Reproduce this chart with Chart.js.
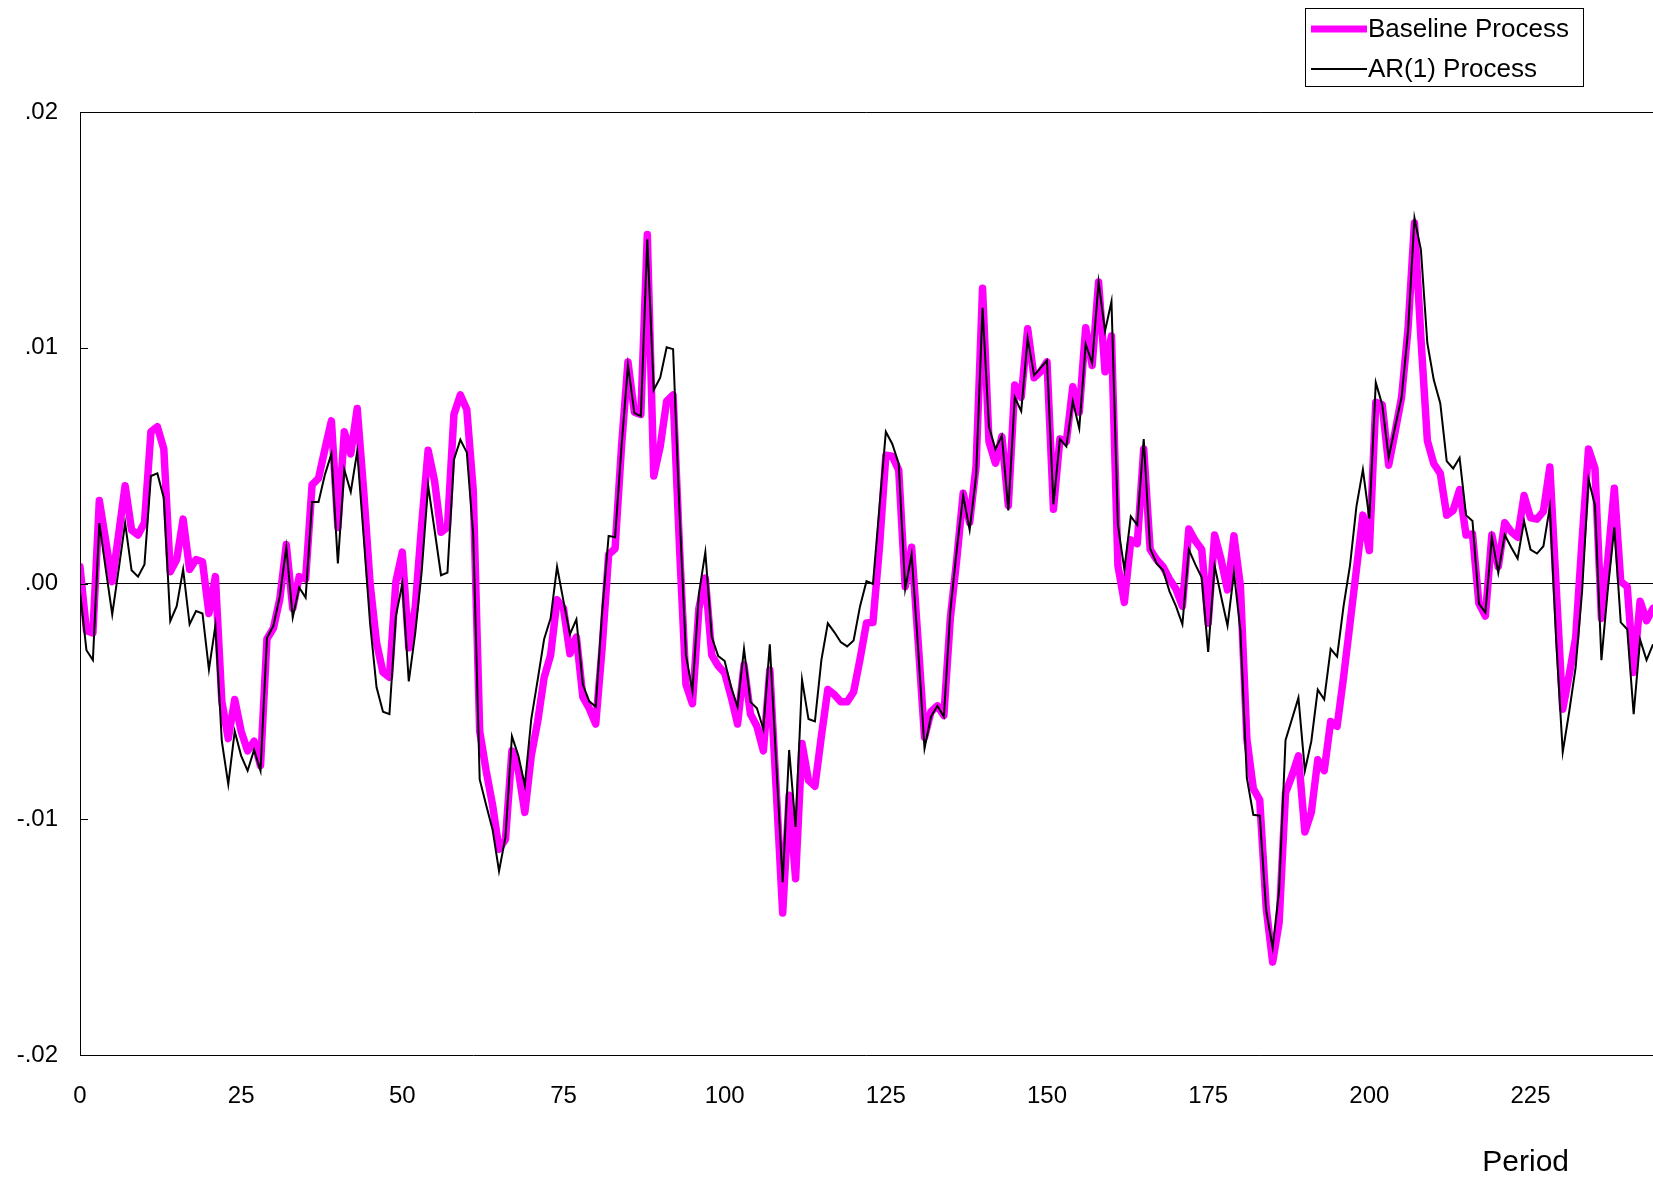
<!DOCTYPE html>
<html>
<head>
<meta charset="utf-8">
<script src="https://cdn.jsdelivr.net/npm/chart.js@4.4.0/dist/chart.umd.min.js"></script>
<style>
  html, body { margin: 0; padding: 0; background: #fff; overflow: hidden; }
  #wrap { width: 1653px; height: 1178px; }
</style>
</head>
<body>
<div id="wrap"><canvas id="arChart" width="1653" height="1178"></canvas></div>
<script>
// series, one value per period (0..244)
const baseline = [
  0.00071, -0.00200, -0.00210, 0.00352, 0.00180, 0.00008, 0.00210, 0.00415, 0.00227, 0.00206,
  0.00258, 0.00644, 0.00665, 0.00571, 0.00050, 0.00102, 0.00273, 0.00060, 0.00102, 0.00092,
  -0.00127, 0.00029, -0.00500, -0.00658, -0.00492, -0.00627, -0.00710, -0.00669, -0.00773, -0.00235,
  -0.00190, -0.00065, 0.00165, -0.00106, 0.00029, 0.00019, 0.00419, 0.00446, 0.00571, 0.00690,
  0.00238, 0.00644, 0.00550, 0.00742, 0.00394, 0.00000, -0.00252, -0.00377, -0.00398, 0.00008,
  0.00133, -0.00273, -0.00100, 0.00250, 0.00565, 0.00435, 0.00217, 0.00238, 0.00717, 0.00800,
  0.00738, 0.00394, -0.00627, -0.00794, -0.00940, -0.01127, -0.01085, -0.00710, -0.00794, -0.00971,
  -0.00731, -0.00585, -0.00398, -0.00304, -0.00069, -0.00106, -0.00298, -0.00227, -0.00481, -0.00530,
  -0.00596, -0.00270, 0.00123, 0.00148, 0.00581, 0.00940, 0.00727, 0.00717, 0.01480, 0.00456,
  0.00581, 0.00773, 0.00800, 0.00150, -0.00429, -0.00510, -0.00106, 0.00023, -0.00304, -0.00350,
  -0.00380, -0.00480, -0.00596, -0.00346, -0.00554, -0.00606, -0.00710, -0.00367, -0.00877, -0.01398,
  -0.00898, -0.01252, -0.00679, -0.00835, -0.00860, -0.00648, -0.00450, -0.00471, -0.00502, -0.00502,
  -0.00460, -0.00320, -0.00167, -0.00165, 0.00150, 0.00544, 0.00540, 0.00481, -0.00013, 0.00154,
  -0.00242, -0.00652, -0.00544, -0.00519, -0.00560, -0.00148, 0.00102, 0.00383, 0.00258, 0.00498,
  0.01252, 0.00602, 0.00510, 0.00623, 0.00331, 0.00842, 0.00790, 0.01081, 0.00873, 0.00898,
  0.00940, 0.00315, 0.00613, 0.00602, 0.00835, 0.00727, 0.01085, 0.00925, 0.01279, 0.00898,
  0.01050, 0.00076, -0.00080, 0.00185, 0.00169, 0.00571, 0.00144, 0.00102, 0.00071, 0.00019,
  -0.00023, -0.00096, 0.00231, 0.00181, 0.00144, -0.00169, 0.00206, 0.00102, -0.00027, 0.00202,
  -0.00010, -0.00660, -0.00870, -0.00919, -0.01377, -0.01606, -0.01440, -0.00888, -0.00815, -0.00731,
  -0.01054, -0.00971, -0.00748, -0.00794, -0.00585, -0.00606, -0.00398, -0.00169, 0.00060, 0.00290,
  0.00140, 0.00769, 0.00758, 0.00502, 0.00644, 0.00790, 0.01080, 0.01529, 0.01040, 0.00606,
  0.00508, 0.00467, 0.00290, 0.00310, 0.00398, 0.00206, 0.00210, -0.00085, -0.00138, 0.00206,
  0.00071, 0.00258, 0.00220, 0.00196, 0.00373, 0.00279, 0.00273, 0.00306, 0.00494, -0.00023,
  -0.00533, -0.00388, -0.00231, 0.00185, 0.00571, 0.00488, -0.00148, 0.00102, 0.00404, 0.00008,
  -0.00013, -0.00377, -0.00075, -0.00158, -0.00106
];

const ar1 = [
  -0.00033, -0.00283, -0.00325, 0.00256, 0.00060, -0.00131, 0.00060, 0.00256, 0.00056, 0.00029,
  0.00081, 0.00456, 0.00467, 0.00363, -0.00160, -0.00096, 0.00060, -0.00173, -0.00117, -0.00127,
  -0.00365, -0.00179, -0.00669, -0.00852, -0.00627, -0.00731, -0.00794, -0.00706, -0.00794, -0.00231,
  -0.00179, -0.00054, 0.00154, -0.00144, -0.00017, -0.00060, 0.00346, 0.00346, 0.00463, 0.00550,
  0.00085, 0.00483, 0.00388, 0.00560, 0.00200, -0.00169, -0.00440, -0.00544, -0.00554, -0.00138,
  0.00000, -0.00415, -0.00210, 0.00050, 0.00415, 0.00227, 0.00035, 0.00046, 0.00525, 0.00610,
  0.00556, 0.00206, -0.00831, -0.00940, -0.01044, -0.01220, -0.01075, -0.00648, -0.00731, -0.00856,
  -0.00575, -0.00408, -0.00235, -0.00148, 0.00071, -0.00075, -0.00215, -0.00152, -0.00429, -0.00500,
  -0.00523, -0.00120, 0.00202, 0.00196, 0.00581, 0.00925, 0.00723, 0.00710, 0.01460, 0.00821,
  0.00873, 0.01002, 0.00994, 0.00300, -0.00304, -0.00456, -0.00044, 0.00133, -0.00227, -0.00308,
  -0.00329, -0.00440, -0.00523, -0.00277, -0.00502, -0.00529, -0.00617, -0.00258, -0.00760, -0.01267,
  -0.00706, -0.01033, -0.00408, -0.00575, -0.00585, -0.00325, -0.00169, -0.00206, -0.00248, -0.00267,
  -0.00242, -0.00096, 0.00010, -0.00002, 0.00321, 0.00644, 0.00592, 0.00508, -0.00023, 0.00123,
  -0.00273, -0.00700, -0.00565, -0.00519, -0.00565, -0.00117, 0.00144, 0.00373, 0.00227, 0.00456,
  0.01169, 0.00665, 0.00570, 0.00627, 0.00310, 0.00790, 0.00731, 0.01040, 0.00883, 0.00915,
  0.00946, 0.00335, 0.00613, 0.00581, 0.00773, 0.00658, 0.01015, 0.00935, 0.01279, 0.01071,
  0.01196, 0.00248, 0.00060, 0.00285, 0.00248, 0.00613, 0.00148, 0.00085, 0.00056, -0.00033,
  -0.00096, -0.00173, 0.00144, 0.00081, 0.00025, -0.00290, 0.00075, -0.00054, -0.00179, 0.00046,
  -0.00200, -0.00825, -0.00981, -0.00985, -0.01388, -0.01544, -0.01304, -0.00665, -0.00575, -0.00485,
  -0.00794, -0.00669, -0.00450, -0.00492, -0.00277, -0.00310, -0.00096, 0.00077, 0.00327, 0.00483,
  0.00275, 0.00852, 0.00758, 0.00535, 0.00665, 0.00790, 0.01070, 0.01550, 0.01415, 0.01019,
  0.00863, 0.00765, 0.00519, 0.00488, 0.00533, 0.00290, 0.00265, -0.00085, -0.00123, 0.00196,
  0.00046, 0.00206, 0.00154, 0.00106, 0.00265, 0.00144, 0.00127, 0.00158, 0.00325, -0.00252,
  -0.00715, -0.00544, -0.00356, -0.00033, 0.00442, 0.00331, -0.00325, -0.00023, 0.00238, -0.00165,
  -0.00194, -0.00554, -0.00238, -0.00325, -0.00258
];

const seriesNames = ['Baseline Process', 'AR(1) Process'];
const xTickValues = [0, 25, 50, 75, 100, 125, 150, 175, 200, 225];
const yTickValues = [-0.02, -0.01, 0, 0.01, 0.02];
const xTitle = 'Period';

Chart.defaults.font.family = '"Liberation Sans", Arial, sans-serif';
Chart.defaults.color = '#000';

function fmtY(v) {
  // .02 / -.01 style labels
  return v.toFixed(2).replace('0.', '.');
}

// box, inward tick marks, legend and axis title
const extrasPlugin = {
  id: 'extras',
  afterDraw(chart) {
    const { ctx, chartArea: a, scales } = chart;
    const ys = scales.y;
    ctx.save();
    ctx.strokeStyle = '#000';
    ctx.lineWidth = 1;
    ctx.beginPath();
    ctx.moveTo(chart.width, a.top + 0.5);
    ctx.lineTo(a.left + 0.5, a.top + 0.5);
    ctx.lineTo(a.left + 0.5, a.bottom + 0.5);
    ctx.lineTo(chart.width, a.bottom + 0.5);
    yTickValues.forEach(v => {
      const py = Math.round(ys.getPixelForValue(v)) + 0.5;
      ctx.moveTo(a.left, py);
      ctx.lineTo(a.left + 8, py);
    });
    ctx.stroke();

    // legend
    const box = { l: 1305.5, t: 8.5, r: 1583.5, b: 86.5 };
    ctx.strokeRect(box.l, box.t, box.r - box.l, box.b - box.t);
    const rows = [
      { y: 29, color: '#FF00FF', w: 7 },
      { y: 69, color: '#000000', w: 2 }
    ];
    ctx.font = '26px "Liberation Sans", Arial, sans-serif';
    ctx.textBaseline = 'middle';
    ctx.textAlign = 'left';
    rows.forEach((r, i) => {
      ctx.strokeStyle = r.color;
      ctx.lineWidth = r.w;
      ctx.lineCap = 'butt';
      ctx.beginPath();
      ctx.moveTo(1311, r.y);
      ctx.lineTo(1367, r.y);
      ctx.stroke();
      ctx.fillStyle = '#000';
      ctx.fillText(seriesNames[i], 1368, r.y + 1);
    });

    // x axis title
    ctx.font = '30px "Liberation Sans", Arial, sans-serif';
    ctx.textAlign = 'right';
    ctx.fillText(xTitle, 1569, 1163);
    ctx.restore();
  }
};

const ctx = document.getElementById('arChart').getContext('2d');
new Chart(ctx, {
  type: 'line',
  data: {
    datasets: [
      {
        label: seriesNames[0],
        data: baseline.map((v, i) => ({ x: i, y: v })),
        borderColor: '#FF00FF',
        borderWidth: 7.5,
        borderJoinStyle: 'round',
        borderCapStyle: 'round',
        pointRadius: 0,
        tension: 0,
        fill: false,
        order: 2
      },
      {
        label: seriesNames[1],
        data: ar1.map((v, i) => ({ x: i, y: v })),
        borderColor: '#000000',
        borderWidth: 2,
        pointRadius: 0,
        tension: 0,
        fill: false,
        order: 1
      }
    ]
  },
  options: {
    responsive: false,
    animation: false,
    devicePixelRatio: 1,
    events: [],
    layout: { padding: { top: 112, right: 0, left: 0, bottom: 0 } },
    plugins: {
      legend: { display: false },
      tooltip: { enabled: false }
    },
    scales: {
      x: {
        type: 'linear',
        min: 0,
        max: 244,
        afterFit: s => { s.height = 123; },
        afterBuildTicks: s => { s.ticks = xTickValues.map(v => ({ value: v })); },
        grid: { display: false, drawTicks: false },
        border: { display: false },
        ticks: { font: { size: 24 }, padding: 27, maxRotation: 0, autoSkip: false }
      },
      y: {
        min: -0.02,
        max: 0.02,
        afterFit: s => { s.width = 80; },
        afterBuildTicks: s => { s.ticks = yTickValues.map(v => ({ value: v })); },
        grid: {
          drawTicks: false,
          lineWidth: 1,
          color: c => (c.tick && c.tick.value === 0 ? '#000' : 'rgba(0,0,0,0)')
        },
        border: { display: false },
        ticks: { font: { size: 24 }, padding: 22, callback: v => fmtY(v) }
      }
    }
  },
  plugins: [extrasPlugin]
});
</script>
</body>
</html>
